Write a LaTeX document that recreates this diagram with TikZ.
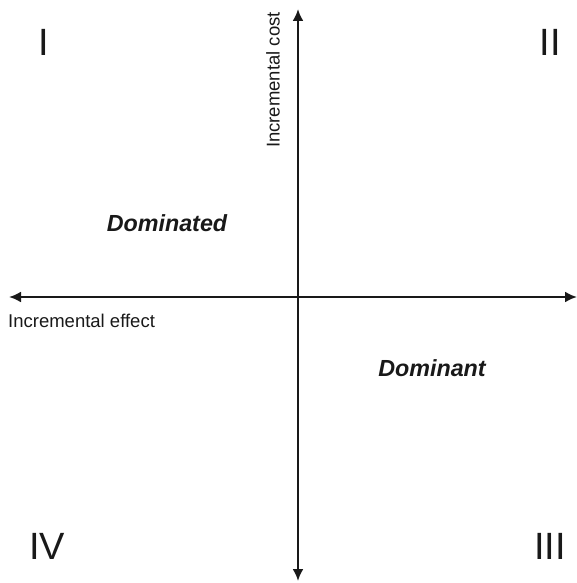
\documentclass[tikz,border=0pt]{standalone}
\usepackage{fontspec}
\setmainfont{Liberation Sans}
\usetikzlibrary{arrows.meta}
\begin{document}
\begin{tikzpicture}[x=1pt,y=-1pt,
  axis/.style={line width=2.2pt,color=black!90,{Latex[length=12pt,width=11pt]}-{Latex[length=12pt,width=11pt]}},
  numeral/.style={font=\fontsize{38}{40}\selectfont,text=black!90,inner sep=0pt},
  axlabel/.style={font=\fontsize{18.5}{20}\selectfont,text=black!90,inner sep=0pt},
  region/.style={font=\fontsize{23.3}{25}\selectfont\bfseries\itshape,text=black!90,inner sep=0pt}]
\useasboundingbox (0,0) rectangle (577,583);
\coordinate (top) at (298,9);
\coordinate (bot) at (298,581);
\coordinate (left) at (9,297);
\coordinate (right) at (577,297);
\draw[axis] (bot) -- (top);
\draw[axis] (left) -- (right);
\node[axlabel,rotate=90] (cost) at (273,80) {Incremental cost};
\node[axlabel,anchor=west] (effect) at (8,321) {Incremental effect};
\node[region] (dominated) at (167,223) {Dominated};
\node[region] (dominant) at (432,368) {Dominant};
\node[numeral] (q1) at (44,42) {I};
\node[numeral] (q2) at (550,42) {II};
\node[numeral] (q4) at (47,546) {IV};
\node[numeral] (q3) at (550,546) {III};
\end{tikzpicture}
\end{document}
